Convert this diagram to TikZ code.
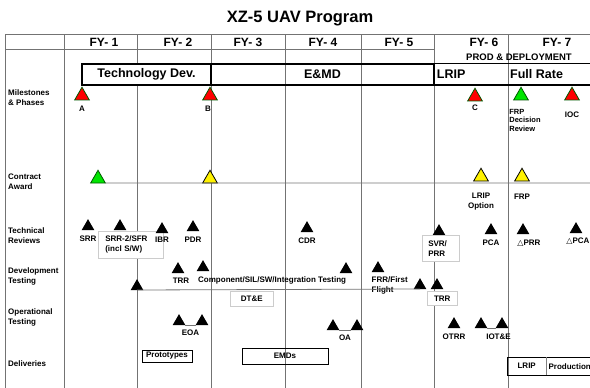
\documentclass[tikz,border=0pt]{standalone}
\usepackage{fontspec}
\setmainfont{Liberation Sans}
\newfontfamily\symfont{DejaVu Sans}
\usetikzlibrary{positioning,shapes.geometric}

\begin{document}
\begin{tikzpicture}[
    x=1pt, y=-1pt,
    gridline/.style={draw=black!55, line width=0.8pt},
    track/.style={draw=black!55, line width=0.8pt},
    rowlabel/.style={anchor=west, align=left, inner sep=0pt,
                     font=\bfseries\fontsize{8}{10}\selectfont},
    fylabel/.style={inner sep=0pt, font=\bfseries\fontsize{12}{14}\selectfont},
    phase/.style={inner sep=2pt, minimum height=21pt,
                  font=\bfseries\fontsize{12.5}{14}\selectfont},
    phaseframe/.style={draw=black, line width=1.4pt},
    phasebox/.style={phase, phaseframe},
    tri/.style={regular polygon, regular polygon sides=3, inner sep=0pt,
                outer sep=0pt, anchor=south},
    mile/.style={tri, minimum size=17pt, draw=green!35!black, line width=0.8pt},
    redmile/.style={mile, fill=red},
    greenmile/.style={mile, fill=green!90!black},
    yellowmile/.style={mile, fill=yellow, draw=black},
    review/.style={tri, minimum size=14.5pt, fill=black},
    tag/.style={inner sep=0.5pt, align=center,
                font=\bfseries\fontsize{8}{10}\selectfont},
    tagbox/.style={tag, draw=black!20, fill=white, line width=0.6pt,
                   anchor=north west, align=left},
    delivery/.style={tag, draw=black, line width=0.7pt}
]
\useasboundingbox (0,0) rectangle (590,388);

% grid
\draw[gridline] (5,34) -- (5,392);
\foreach \x in {64,137,211,285,361,434,508}
    \draw[gridline] (\x,34) -- (\x,392);
\draw[gridline] (5,34) -- (600,34);
\draw[gridline] (5,49) -- (434,49);

\node[font=\bfseries\fontsize{16.5}{18}\selectfont] (title) at (300,19) {XZ-5 UAV Program};
\foreach \n/\x in {1/104,2/178,3/248,4/323,5/399,6/484,7/557}
    \node[fylabel] (fy\n) at (\x,42) {FY- \n};
\node[inner sep=0pt, font=\bfseries\fontsize{9.5}{11}\selectfont] (prod) at (519,57) {PROD \& DEPLOYMENT};

% row labels
\node[rowlabel] (rowMile) at (8,98) {Milestones\\\& Phases};
\node[rowlabel] (rowContract) at (8,182) {Contract\\Award};
\node[rowlabel] (rowReview) at (8,236) {Technical\\Reviews};
\node[rowlabel] (rowDev) at (8,276) {Development\\Testing};
\node[rowlabel] (rowOp) at (8,317) {Operational\\Testing};
\node[rowlabel] (rowDeliv) at (8,364) {Deliveries};

% phases
\node[phasebox, fill=white, minimum width=129pt] (tdev) at (146.5,74.5) {Technology Dev.};
\node[phasebox, minimum width=223pt] (emd) at (322.5,74.5) {E\&MD};
\draw[phaseframe] (emd.north east) rectangle (600,85);
\node[phase, anchor=west] (lrip) at (emd.east) {LRIP};
\node[phase, anchor=west] (fullrate) at (508,74.5) {Full Rate};

% milestones
\node[redmile] (msA) at (82,100) {};
\node[tag, below=5pt of msA] (msAL) {A};
\node[redmile] (msB) at (210,100) {};
\node[tag, below=5pt of msB, xshift=-2pt] (msBL) {B};
\node[redmile] (msC) at (475,101) {};
\node[tag, below=3pt of msC] (msCL) {C};
\node[greenmile] (msFRP) at (521,100) {};
\node[tag, anchor=north west, align=left, font=\bfseries\fontsize{7.5}{8.5}\selectfont]
    (msFRPL) at ([xshift=-5pt,yshift=-8.5pt]msFRP.corner 2) {FRP\\Decision\\Review};
\node[redmile] (msIOC) at (572,100) {};
\node[tag, below=11pt of msIOC] (msIOCL) {IOC};

% contract award
\coordinate (caEnd) at (600,183);
\node[greenmile] (ca1) at (98,183) {};
\node[yellowmile] (ca2) at (210,183) {};
\node[yellowmile] (ca3) at (481,181) {};
\node[tag, below=11pt of ca3] (ca3L) {LRIP\\Option};
\node[yellowmile] (ca4) at (522,181) {};
\node[tag, below=12pt of ca4] (ca4L) {FRP};
\draw[track] (ca1.corner 3) -- (caEnd);

% technical reviews
\node[review] (rSRR) at (88,230) {};
\node[tag, below=5.5pt of rSRR] (rSRRL) {SRR};
\node[review] (rSRR2) at (120,230) {};
\node[tagbox, text width=51pt, inner xsep=7pt, minimum height=27pt] (rSRR2L) at (98,231) {SRR-2/SFR\\(incl S/W)};
\node[review] (rIBR) at (162,233) {};
\node[tag, below=3pt of rIBR] (rIBRL) {IBR};
\node[review] (rPDR) at (193,231) {};
\node[tag, below=5pt of rPDR] (rPDRL) {PDR};
\node[review] (rCDR) at (307,232) {};
\node[tag, below=5pt of rCDR] (rCDRL) {CDR};
\node[review] (rSVR) at (439,235) {};
\node[tagbox, text width=25pt, inner xsep=6pt, minimum height=26pt] (rSVRL) at (422,235) {SVR/\\PRR};
\node[review] (rPCA) at (491,234) {};
\node[tag, below=5pt of rPCA] (rPCAL) {PCA};
\node[review] (rPRR) at (523,234) {};
\node[tag, anchor=north west] (rPRRL) at ([yshift=-5pt]rPRR.corner 2) {{\symfont △}PRR};
\node[review] (rPCA2) at (576,233) {};
\node[tag, anchor=north west] (rPCA2L) at ([xshift=-4pt,yshift=-4pt]rPCA2.corner 2) {{\symfont △}PCA};

% development testing
\node[review] (dStart) at (137,290) {};
\node[review] (dTRR) at (178,273) {};
\node[tag, below=4pt of dTRR, xshift=3pt] (dTRRL) {TRR};
\node[review] (dComp) at (203,271) {};
\node[tag, anchor=north west] (dCompL) at ([xshift=-5.5pt,yshift=-5pt]dComp.south) {Component/SIL/SW/Integration Testing};
\node[review] (dComp2) at (346,273) {};
\node[review] (dFRR) at (378,272) {};
\node[tag, anchor=north west, align=left] (dFRRL) at ([xshift=-7pt,yshift=-4pt]dFRR.south) {FRR/First\\Flight};
\node[review] (dEnd) at (420,289) {};
\node[review] (dTRR2) at (437,289) {};
\draw[track] (dStart.south) -- (dEnd.south);
\node[tagbox, align=center, minimum width=30pt, minimum height=14pt] (dTRR2L) at (427,291) {TRR};
\node[tagbox, align=center, minimum width=43pt, minimum height=15pt] (dte) at (230,291) {DT\&E};

% operational testing
\node[review] (eoa1) at (179,325) {};
\node[review] (eoa2) at (202,325) {};
\draw[track] (eoa1.corner 3) -- node[tag, below=4pt] (eoaL) {EOA} (eoa2.corner 2);
\node[review] (oa1) at (333,330) {};
\node[review] (oa2) at (357,330) {};
\draw[track] (oa1.corner 3) -- node[tag, below=4pt] (oaL) {OA} (oa2.corner 2);
\node[review] (otrr) at (454,328) {};
\node[tag, below=5pt of otrr] (otrrL) {OTRR};
\node[review] (iot1) at (481,328) {};
\node[review] (iot2) at (502,328) {};
\draw[track] (iot1.corner 3) -- node[tag, below=5pt, xshift=7pt] (iotL) {IOT\&E} (iot2.corner 2);

% deliveries
\node[delivery, minimum width=50pt, minimum height=12pt] (dvProto) at (167,356) {Prototypes};
\node[delivery, minimum width=86pt, minimum height=16pt] (dvEMD) at (285,356) {EMDs};
\node[tag, minimum width=39pt, minimum height=18pt, anchor=north west] (dvLRIP) at (507,357) {LRIP};
\node[tag, text width=46pt, align=left, inner xsep=2pt, minimum height=18pt, anchor=north west]
    (dvProd) at (dvLRIP.north east) {Production};
\draw[draw=black, line width=0.7pt] (dvLRIP.north west) rectangle (dvProd.south east);
\draw[draw=black!50, line width=0.7pt] (dvLRIP.north east) -- (dvLRIP.south east);

\end{tikzpicture}
\end{document}
